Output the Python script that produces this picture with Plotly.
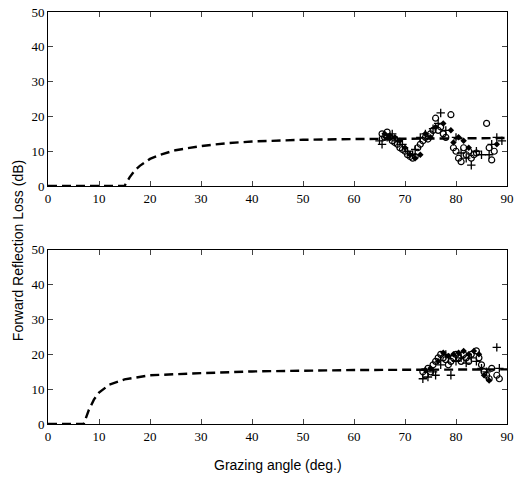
import plotly.graph_objects as go
from plotly.subplots import make_subplots

# model curves (grazing angle, loss in dB)
top_model_x = [0, 5, 10, 15, 16, 17, 18, 20, 22, 25, 30, 35, 40, 50, 60, 70, 80, 90]
top_model_y = [0, 0, 0, 0, 2.5, 4.5, 5.8, 7.8, 9.0, 10.3, 11.5, 12.3, 12.8, 13.3, 13.5, 13.6, 13.7, 13.8]
bot_model_x = [0, 3, 6, 7, 8, 9, 10, 12, 15, 20, 30, 40, 60, 90]
bot_model_y = [0, 0, 0, 0, 4.0, 7.0, 9.0, 11.3, 12.8, 14.0, 14.6, 15.1, 15.5, 15.7]

# measured points, top panel
top_circ_x = [65.5, 66, 66.5, 67, 67.5, 68, 68.5, 69, 69.5, 70, 70.5, 71, 71.5, 72, 72.5, 73, 73.5, 74,
              74.5, 75, 75.5, 76, 76.5, 77, 77.5, 78, 79, 79.5, 80, 80.5, 81, 81.5, 82, 82.5, 83, 83.5,
              84, 86, 86.5, 87, 87.5]
top_circ_y = [15, 14, 15.5, 14, 13, 12.5, 12, 11, 10.5, 10, 9, 8.5, 8, 8.5, 11, 12, 13, 14,
              13.5, 15, 16, 19.5, 16, 17, 15, 14, 20.5, 11, 10, 8, 7, 11, 9, 10, 8, 9,
              9.5, 18, 11, 7.5, 10]
top_plus_x = [65, 65.5, 66.5, 67.5, 68.5, 69.5, 70.5, 71.5, 72, 73, 74, 75.5, 76.5, 77, 78, 80, 81,
              82, 83, 84, 85, 86.5, 87, 88, 89]
top_plus_y = [13, 12, 14, 15, 13, 12, 10, 9, 10.5, 14, 15, 16.5, 18, 21, 16, 14, 9.5,
              8, 6, 10, 9, 9, 12, 14, 13]
top_dia_x = [66, 67, 68, 69, 70, 71, 72, 73, 74, 75, 76, 77.5, 79, 79.5, 80.5, 81.5, 82.5, 88]
top_dia_y = [15, 14.5, 14, 13, 11, 9, 8, 9, 15, 14, 17, 18, 16, 12.5, 14, 13, 11, 12]

# measured points, bottom panel
bot_circ_x = [73.5, 74, 74.5, 75, 75.5, 76, 76.5, 77, 77.5, 78, 78.5, 79, 79.5, 80, 80.5, 81, 81.5,
              82, 82.5, 83, 84, 84.5, 85, 85.5, 86, 86.5, 87, 88, 88.5]
bot_circ_y = [15, 14, 16, 15, 17, 18, 19, 20, 19, 18.5, 17, 18, 19, 20, 19, 18, 20,
              19, 18, 20, 21, 19, 17, 15, 14, 13, 16, 14, 13]
bot_plus_x = [73.5, 74.5, 75.5, 76, 77, 78, 79, 80, 81, 82, 83, 84, 85, 86, 88, 88.5]
bot_plus_y = [13, 13.5, 15, 14, 17, 20, 14, 18, 19, 17.5, 19, 18, 16, 15, 22, 16]
bot_dia_x = [74, 75, 76.5, 77.5, 78.5, 79.5, 80.5, 81.5, 82.5, 83.5, 84.5, 85.5, 86.5]
bot_dia_y = [15.5, 16, 18, 20.5, 19.5, 20, 20.5, 21, 20, 21, 20, 14, 12.5]

x_ticks = [0, 10, 20, 30, 40, 50, 60, 70, 80, 90]
y_ticks = [0, 10, 20, 30, 40, 50]

fig = make_subplots(rows=2, cols=1, vertical_spacing=0.155)

panels = [
    (1, top_model_x, top_model_y, top_circ_x, top_circ_y, top_plus_x, top_plus_y, top_dia_x, top_dia_y),
    (2, bot_model_x, bot_model_y, bot_circ_x, bot_circ_y, bot_plus_x, bot_plus_y, bot_dia_x, bot_dia_y),
]
for row, mx, my, cx, cy, px_, py_, dx, dy in panels:
    fig.add_trace(go.Scatter(x=mx, y=my, mode="lines",
                             line=dict(color="black", width=2.4, dash="9px,5px")), row=row, col=1)
    fig.add_trace(go.Scatter(x=cx, y=cy, mode="markers",
                             marker=dict(symbol="circle-open", size=6, color="black",
                                         line=dict(width=1.2))), row=row, col=1)
    fig.add_trace(go.Scatter(x=px_, y=py_, mode="markers",
                             marker=dict(symbol="cross-thin-open", size=6, color="black",
                                         line=dict(width=1.3, color="black"))), row=row, col=1)
    fig.add_trace(go.Scatter(x=dx, y=dy, mode="markers",
                             marker=dict(symbol="diamond", size=5, color="black")), row=row, col=1)

fig.update_xaxes(range=[0, 90], tickvals=x_ticks, ticks="inside", ticklen=5, mirror="ticks",
                 showline=True, linecolor="black", linewidth=1, showgrid=False, zeroline=False,
                 automargin=False,
                 tickfont=dict(family="Liberation Serif", size=13, color="black"))
fig.update_yaxes(range=[0, 50], tickvals=y_ticks, ticks="inside", ticklen=5, mirror="ticks",
                 showline=True, linecolor="black", linewidth=1, showgrid=False, zeroline=False,
                 automargin=False,
                 tickfont=dict(family="Liberation Serif", size=13, color="black"))

fig.add_annotation(text="Forward Reflection Loss (dB)", xref="paper", yref="paper",
                   x=-0.065, y=0.42, xanchor="center", yanchor="middle",
                   textangle=-90, showarrow=False,
                   font=dict(family="Liberation Sans", size=14, color="black"))
fig.add_annotation(text="Grazing angle (deg.)", xref="paper", yref="paper",
                   x=0.5, y=-0.1, xanchor="center", yanchor="middle", showarrow=False,
                   font=dict(family="Liberation Sans", size=14, color="black"))

fig.update_layout(width=516, height=481, showlegend=False,
                  plot_bgcolor="white", paper_bgcolor="white",
                  margin=dict(l=48, r=9, t=12, b=57))

# drop the default page margin so the figure sits at the window's corner
fig.write_html("out.html", config={"displayModeBar": False},
               post_script="document.body.style.margin='0';")
